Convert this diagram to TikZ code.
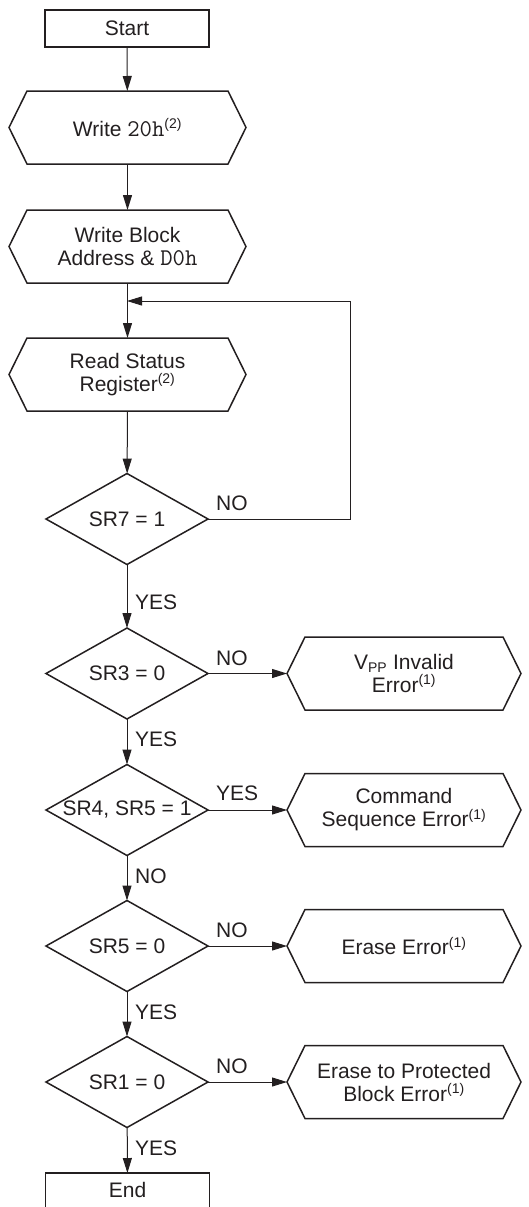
\documentclass[tikz,border=0pt]{standalone}
\usepackage{fontspec}
\setmainfont{Liberation Sans}
\usetikzlibrary{shapes.geometric,arrows.meta,calc}
\definecolor{ink}{HTML}{231F20}
\newcommand{\hexdraw}[1]{%
  \draw[shapeline] (#1.west) -- ([xshift=18pt]#1.north west) -- ([xshift=-18pt]#1.north east)
    -- (#1.east) -- ([xshift=-18pt]#1.south east) -- ([xshift=18pt]#1.south west) -- cycle;}
\newcommand{\fnote}[1]{\textsuperscript{\fontsize{14}{14}\selectfont(#1)}}
\newcommand{\codetxt}[1]{{\ttfamily\fontsize{24}{24}\selectfont #1}}
\tikzset{
  shapeline/.style={draw=ink, line width=1.5pt, line join=miter},
  txt/.style={font=\fontsize{21}{24}\selectfont, text=ink},
  termbox/.style={txt, draw=ink, line width=1.5pt, rectangle, minimum width=164pt, minimum height=37pt, inner sep=0pt, outer sep=0pt},
  hexbox/.style={txt, rectangle, minimum height=73pt, inner sep=0pt, outer sep=0pt, align=center},
  decide/.style={diamond, draw=ink, line width=1.5pt, minimum width=162pt, minimum height=91pt, inner sep=0pt, outer sep=0pt, label={[txt, inner sep=0pt]center:#1}},
  flow/.style={draw=ink, line width=1pt, -{Triangle[length=15pt,width=9pt]}},
  plain/.style={draw=ink, line width=1pt},
  lbl/.style={txt, anchor=base west, inner sep=0pt}
}
\begin{document}
\begin{tikzpicture}[x=1pt,y=-1pt]
\clip (0,0) rectangle (529,1207);
\useasboundingbox (0,0) rectangle (529,1207);
% main column
\node[termbox] (start) at (127,28.5) {Start};
\node[hexbox, minimum width=237pt] (w20) at (127.5,127.5) {Write \codetxt{20h}\fnote{2}};
\node[hexbox, minimum width=237pt] (wblk) at (127.5,246.5) {Write Block\\[-1pt]Address \& \codetxt{D0h}};
\node[hexbox, minimum width=237pt] (rsr) at (127.5,374.5) {Read Status\\[-1pt]Register\fnote{2}};
\node[decide={SR7 = 1}] (sr7) at (127,519) {};
\node[decide={SR3 = 0}] (sr3) at (127,673.5) {};
\node[decide={SR4, SR5 = 1}] (sr4) at (127,810) {};
\node[decide={SR5 = 0}] (sr5) at (127,946) {};
\node[decide={SR1 = 0}] (sr1) at (127,1082) {};
\node[termbox] (end) at (127.5,1191.5) {\raisebox{3pt}{End}};
% right column
\node[hexbox, minimum width=234pt] (vpp) at (404,673.5) {V\textsubscript{\fontsize{14}{14}\selectfont PP} Invalid\\[-1pt]Error\fnote{1}};
\node[hexbox, minimum width=234pt] (cse) at (404,810) {Command\\[-1pt]Sequence Error\fnote{1}};
\node[hexbox, minimum width=234pt] (ee) at (404,946) {Erase Error\fnote{1}};
\node[hexbox, minimum width=234pt] (epb) at (404,1082) {Erase to Protected\\[-1pt]Block Error\fnote{1}};
\foreach \h in {w20,wblk,rsr,vpp,cse,ee,epb} {\hexdraw{\h}}
% connectors
\coordinate (join) at (127,301);
\coordinate (loopc) at (350,301);
\draw[flow] (start) -- (w20);
\draw[flow] (w20) -- (wblk);
\draw[flow] (wblk) -- (rsr);
\draw[flow] (rsr) -- (sr7);
\draw[plain] (sr7.east) -| (loopc);
\draw[flow] (loopc) -- (join);
\draw[flow] (sr7) -- (sr3);
\draw[flow] (sr3) -- (sr4);
\draw[flow] (sr4) -- (sr5);
\draw[flow] (sr5) -- (sr1);
\draw[flow] (sr1) -- (end);
\draw[flow] (sr3.east) -- (vpp.west);
\draw[flow] (sr4.east) -- (cse.west);
\draw[flow] (sr5.east) -- (ee.west);
\draw[flow] (sr1.east) -- (epb.west);
% labels
\node[lbl] (l7n) at (216,510.5) {NO};
\node[lbl] (l7y) at (135,609) {YES};
\node[lbl] (l3n) at (216,665) {NO};
\node[lbl] (l3y) at (135,746) {YES};
\node[lbl] (l4y) at (216,800) {YES};
\node[lbl] (l4n) at (135,883) {NO};
\node[lbl] (l5n) at (216,937) {NO};
\node[lbl] (l5y) at (135,1019) {YES};
\node[lbl] (l1n) at (216,1073) {NO};
\node[lbl] (l1y) at (135,1155) {YES};
\end{tikzpicture}
\end{document}
